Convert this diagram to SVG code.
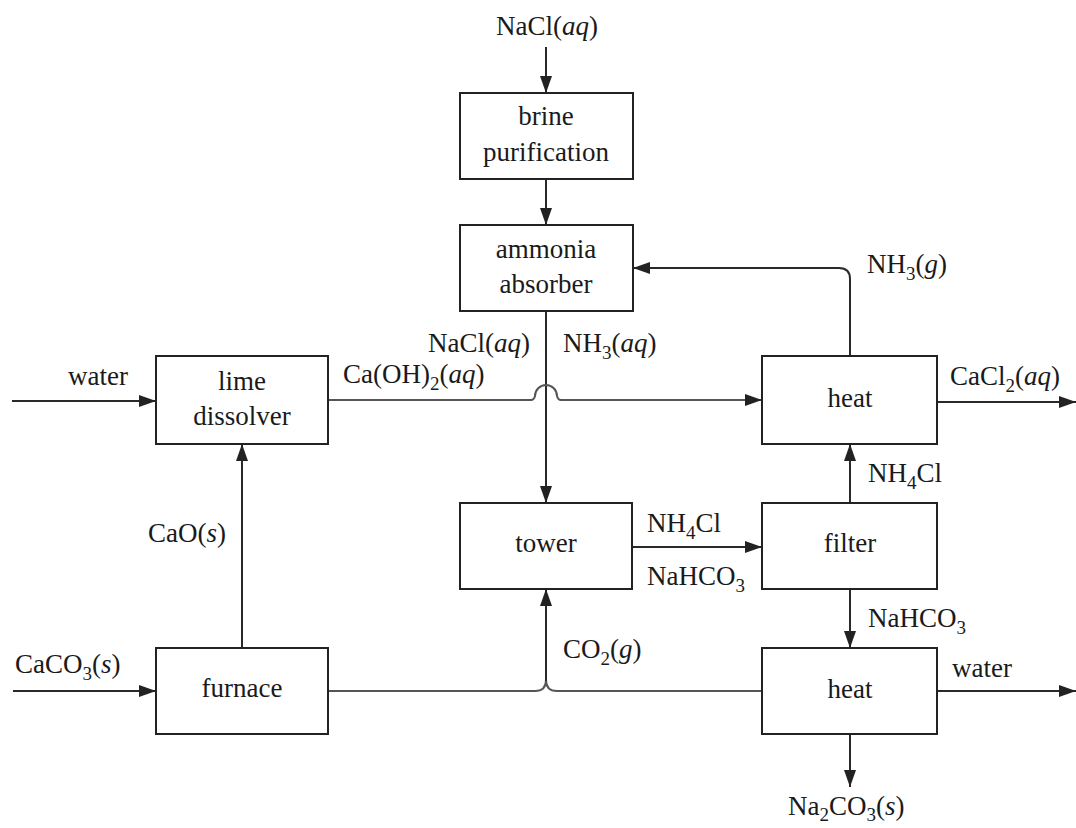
<svg xmlns="http://www.w3.org/2000/svg" width="1076" height="828" viewBox="0 0 1076 828">
<style>
text{font-family:"Times New Roman","Liberation Serif",Times,Tinos,"Noto Serif","DejaVu Serif",FreeSerif,serif;font-size:27px;fill:#1a1a1a}
.c{text-anchor:middle}
.e{text-anchor:end}
.i{font-style:italic}
.s{font-size:19px}
rect{fill:#fff;stroke:#222;stroke-width:2}
.ln{fill:none;stroke:#2a2a2a;stroke-width:2}
.g{stroke:#555}
.a{marker-end:url(#ah)}
</style>
<defs>
<marker id="ah" markerWidth="17" markerHeight="12" refX="17" refY="6" orient="auto" markerUnits="userSpaceOnUse">
<path d="M0,0 L17,6 L0,12 z" fill="#222"/>
</marker>
</defs>
<g id="connectors">
<path class="ln a" d="M546,47 V93"/>
<path class="ln a" d="M546,179 V225"/>
<path class="ln a" d="M546,311 V503"/>
<path class="ln a" d="M850,356 V279 Q850,268 839,268 H633"/>
<path class="ln a" d="M12,401 H156"/>
<path class="ln a g" d="M328,400 H531 Q534,400 535,396 A11,11 0 0 1 557,396 Q558,400 561,400 H762"/>
<path class="ln a" d="M937,402 H1076"/>
<path class="ln a" d="M242,648 V444"/>
<path class="ln a" d="M13,691 H156"/>
<path class="ln g" d="M328,691 H535 Q546,691 546,680"/>
<path class="ln g" d="M762,691 H557 Q546,691 546,680"/>
<path class="ln a" d="M546,681 V589"/>
<path class="ln a" d="M632,547 H762"/>
<path class="ln a" d="M850,503 V444"/>
<path class="ln a" d="M850,589 V648"/>
<path class="ln a" d="M937,691 H1076"/>
<path class="ln a" d="M850,734 V787"/>
</g>
<g id="brine">
<rect x="460" y="93" width="173" height="86"/>
<text class="c" x="546" y="125">brine</text>
<text class="c" x="546" y="161">purification</text>
</g>
<g id="absorber">
<rect x="460" y="225" width="173" height="86"/>
<text class="c" x="546" y="258">ammonia</text>
<text class="c" x="546" y="293">absorber</text>
</g>
<g id="lime">
<rect x="156" y="356" width="172" height="88"/>
<text class="c" x="242" y="390">lime</text>
<text class="c" x="242" y="425">dissolver</text>
</g>
<g id="heat1">
<rect x="762" y="356" width="175" height="88"/>
<text class="c" x="850" y="407">heat</text>
</g>
<g id="tower">
<rect x="460" y="503" width="172" height="86"/>
<text class="c" x="546" y="552">tower</text>
</g>
<g id="filter">
<rect x="762" y="503" width="175" height="86"/>
<text class="c" x="850" y="552">filter</text>
</g>
<g id="furnace">
<rect x="156" y="648" width="172" height="86"/>
<text class="c" x="242" y="697">furnace</text>
</g>
<g id="heat2">
<rect x="762" y="648" width="175" height="86"/>
<text class="c" x="850" y="698">heat</text>
</g>
<g id="labels">
<text class="c" x="547" y="35">NaCl(<tspan class="i">aq</tspan>)</text>
<text x="867" y="273">NH<tspan class="s" dy="7">3</tspan><tspan dy="-7">(</tspan><tspan class="i">g</tspan>)</text>
<text class="e" x="530" y="352">NaCl(<tspan class="i">aq</tspan>)</text>
<text x="563" y="352">NH<tspan class="s" dy="7">3</tspan><tspan dy="-7">(</tspan><tspan class="i">aq</tspan>)</text>
<text x="343" y="383">Ca(OH)<tspan class="s" dy="7">2</tspan><tspan dy="-7">(</tspan><tspan class="i">aq</tspan>)</text>
<text x="68" y="385">water</text>
<text x="950" y="385">CaCl<tspan class="s" dy="7">2</tspan><tspan dy="-7">(</tspan><tspan class="i">aq</tspan>)</text>
<text x="868" y="482">NH<tspan class="s" dy="7">4</tspan><tspan dy="-7">Cl</tspan></text>
<text x="148" y="542">CaO(<tspan class="i">s</tspan>)</text>
<text x="647" y="532">NH<tspan class="s" dy="7">4</tspan><tspan dy="-7">Cl</tspan></text>
<text x="647" y="585">NaHCO<tspan class="s" dy="7">3</tspan></text>
<text x="868" y="627">NaHCO<tspan class="s" dy="7">3</tspan></text>
<text x="563" y="658">CO<tspan class="s" dy="7">2</tspan><tspan dy="-7">(</tspan><tspan class="i">g</tspan>)</text>
<text x="15" y="673">CaCO<tspan class="s" dy="7">3</tspan><tspan dy="-7">(</tspan><tspan class="i">s</tspan>)</text>
<text x="952" y="677">water</text>
<text x="788" y="815">Na<tspan class="s" dy="6">2</tspan><tspan dy="-6">CO</tspan><tspan class="s" dy="6">3</tspan><tspan dy="-6">(</tspan><tspan class="i">s</tspan>)</text>
</g>
</svg>
